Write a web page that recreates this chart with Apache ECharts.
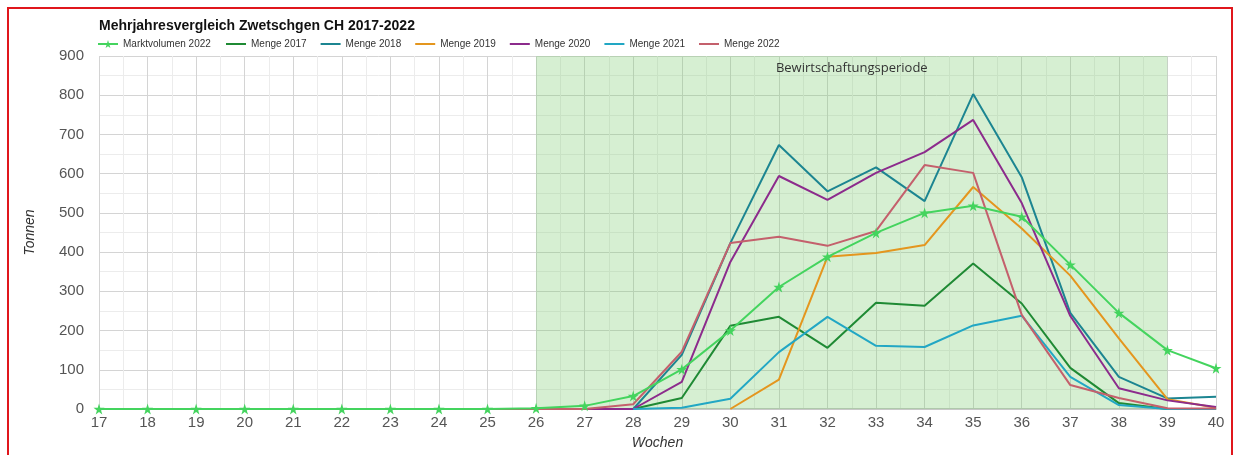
<!DOCTYPE html>
<html>
<head>
<meta charset="utf-8">
<script src="https://cdn.jsdelivr.net/npm/echarts@6/dist/echarts.min.js"></script>
<style>
  html, body { margin: 0; padding: 0; background: #fff; }
  #chart { width: 1239px; height: 455px; }
  .frame { position: absolute; left: 7px; top: 7px; width: 1226px; height: 460px; border: 2px solid #e0161c; box-sizing: border-box; pointer-events: none; }
</style>
</head>
<body>
<div id="chart"></div>
<div class="frame"></div>
<script>
  // Kalenderwochen 17..40
  var weeks = [17, 18, 19, 20, 21, 22, 23, 24, 25, 26, 27, 28, 29, 30, 31, 32, 33, 34, 35, 36, 37, 38, 39, 40];

  var markt2022 = [0, 0, 0, 0, 0, 0, 0, 0, 0, 2, 8, 33, 101, 200, 311, 388, 449, 500, 518, 490, 368, 245, 150, 104];
  var menge2017 = [null, null, null, null, null, null, null, null, null, null, null, 0, 28, 212, 235, 156, 271, 263, 371, 269, 105, 15, 0, 0];
  var menge2018 = [null, null, null, null, null, null, null, null, null, null, null, 0, 138, 423, 673, 555, 616, 530, 803, 591, 245, 82, 27, 31];
  var menge2019 = [null, null, null, null, null, null, null, null, null, null, null, null, null, 0, 75, 388, 398, 418, 566, 460, 340, 180, 25, 3];
  var menge2020 = [null, null, null, null, 0, 0, 0, 0, 0, 0, 0, 0, 69, 375, 594, 533, 602, 655, 737, 525, 237, 53, 22, 5];
  var menge2021 = [null, null, null, null, null, null, null, null, null, null, null, 0, 3, 26, 145, 235, 161, 158, 213, 238, 82, 10, 0, 0];
  var menge2022 = [null, null, null, 0, 0, 0, 0, 0, 0, 0, 0, 12, 146, 423, 439, 416, 454, 622, 602, 240, 61, 28, 2, 1];

  var mengeNames = ["Menge 2017", "Menge 2018", "Menge 2019", "Menge 2020", "Menge 2021", "Menge 2022"];

  var periodStart = 26;
  var periodEnd = 39;

  var star = "path://M50,0 L61,35 L98,35 L68,57 L79,91 L50,70 L21,91 L32,57 L2,35 L39,35 Z";

  function pairs(values) {
    return weeks.map(function (w, i) {
      return [w, values[i]];
    });
  }

  function menge(name, values, color) {
    return {
      name: name,
      type: "line",
      data: pairs(values),
      symbol: "none",
      connectNulls: false,
      lineStyle: { color: color, width: 2 },
      itemStyle: { color: color },
      z: 3
    };
  }

  var chart = echarts.init(document.getElementById("chart"));

  chart.setOption({
    animation: false,
    textStyle: { fontFamily: "Liberation Sans, Arial, sans-serif" },
    title: {
      text: "Mehrjahresvergleich Zwetschgen CH 2017-2022",
      left: 94,
      top: 14,
      textStyle: { fontSize: 14, fontWeight: "bold", color: "#111" }
    },
    legend: [
      {
        left: 92,
        top: 34,
        itemWidth: 20,
        itemHeight: 10,
        textStyle: { fontSize: 10, color: "#333" },
        data: ["Marktvolumen 2022"]
      },
      {
        left: 221,
        top: 34,
        itemWidth: 20,
        itemHeight: 2,
        itemGap: 14,
        icon: "rect",
        textStyle: { fontSize: 10, color: "#333" },
        data: mengeNames
      }
    ],
    grid: {
      left: 99,
      right: 23,
      top: 56,
      bottom: 46,
      containLabel: false,
      outerBoundsMode: "none"
    },
    xAxis: {
      type: "value",
      min: 17,
      max: 40,
      interval: 1,
      name: "Wochen",
      nameLocation: "middle",
      nameGap: 27,
      nameTextStyle: { fontStyle: "italic", fontSize: 14, color: "#333" },
      axisLine: { show: true, lineStyle: { color: "#c8c8c8", width: 2 } },
      axisTick: { show: false },
      axisLabel: { fontSize: 15, color: "#555", margin: 6 },
      splitLine: { show: true, lineStyle: { color: "#d4d4d4" } },
      minorTick: { show: false, splitNumber: 2 },
      minorSplitLine: { show: true, lineStyle: { color: "#ececec" } }
    },
    yAxis: {
      type: "value",
      min: 0,
      max: 900,
      interval: 100,
      name: "Tonnen",
      nameLocation: "middle",
      nameGap: 62,
      nameTextStyle: { fontStyle: "italic", fontSize: 14, color: "#333" },
      axisLine: { show: false },
      axisTick: { show: false },
      axisLabel: { fontSize: 15, color: "#555", margin: 15 },
      splitLine: { show: true, lineStyle: { color: "#d4d4d4" } },
      minorTick: { show: false, splitNumber: 2 },
      minorSplitLine: { show: true, lineStyle: { color: "#ececec" } }
    },
    series: [
      {
        name: "Marktvolumen 2022",
        type: "line",
        data: pairs(markt2022),
        symbol: star,
        symbolSize: 11,
        lineStyle: { color: "#44d45e", width: 2 },
        itemStyle: { color: "#44d45e" },
        z: 4,
        markArea: {
          silent: true,
          itemStyle: { color: "rgba(118,202,105,0.3)" },
          label: {
            show: true,
            position: "insideTop",
            distance: 6,
            color: "#333",
            fontSize: 13,
            fontFamily: "Open Sans, sans-serif"
          },
          data: [[
            { name: "Bewirtschaftungsperiode", xAxis: periodStart },
            { xAxis: periodEnd }
          ]]
        }
      },
      menge(mengeNames[0], menge2017, "#1f8a34"),
      menge(mengeNames[1], menge2018, "#1c8591"),
      menge(mengeNames[2], menge2019, "#e4961e"),
      menge(mengeNames[3], menge2020, "#8c2b8c"),
      menge(mengeNames[4], menge2021, "#22a7c4"),
      menge(mengeNames[5], menge2022, "#c4606c")
    ]
  });
</script>
</body>
</html>
